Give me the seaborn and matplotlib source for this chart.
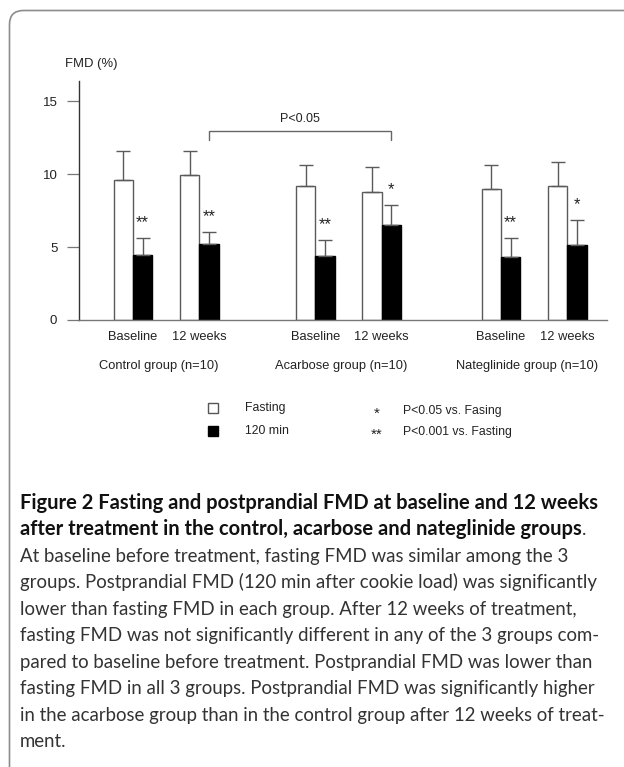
import numpy as np
import pandas as pd
import matplotlib
matplotlib.use("Agg")
import matplotlib.pyplot as plt
import seaborn as sns
from matplotlib.patches import FancyBboxPatch, Rectangle

sns.set_theme(style="white")
plt.rcParams["font.family"] = ["Liberation Sans", "DejaVu Sans"]

# ---- data -------------------------------------------------------------
groups = ["Control group (n=10)", "Acarbose group (n=10)", "Nateglinide group (n=10)"]
periods = ["Baseline", "12 weeks", "Baseline", "12 weeks", "Baseline", "12 weeks"]
conditions = ["Fasting", "120 min"]

fasting_mean = [9.6, 9.9, 9.2, 8.75, 8.95, 9.2]
fasting_sd = [2.0, 1.7, 1.4, 1.75, 1.65, 1.65]
post_mean = [4.45, 5.2, 4.35, 6.5, 4.3, 5.15]
post_sd = [1.15, 0.8, 1.15, 1.35, 1.3, 1.7]
post_marks = ["**", "**", "**", "*", "**", "*"]

legend_notes = ["P<0.05 vs. Fasing", "P<0.001 vs. Fasting"]

caption_bold = [
    "Figure 2 Fasting and postprandial FMD at baseline and 12 weeks",
    "after treatment in the control, acarbose and nateglinide groups",
]
caption_body = [
    "At baseline before treatment, fasting FMD was similar among the 3",
    "groups. Postprandial FMD (120 min after cookie load) was significantly",
    "lower than fasting FMD in each group. After 12 weeks of treatment,",
    "fasting FMD was not significantly different in any of the 3 groups com-",
    "pared to baseline before treatment. Postprandial FMD was lower than",
    "fasting FMD in all 3 groups. Postprandial FMD was significantly higher",
    "in the acarbose group than in the control group after 12 weeks of treat-",
    "ment.",
]

# slot positions along the x axis (pairs within a group sit closer together)
slot_x = [0.0, 1.0, 2.75, 3.75, 5.55, 6.55]

TEXT = "#222222"
W, H = 624, 767
fig = plt.figure(figsize=(W / 100, H / 100), dpi=100)
fig.patch.set_facecolor("white")

# full-figure pixel canvas for frame, legend and caption
bg = fig.add_axes([0, 0, 1, 1])
bg.set_xlim(0, W)
bg.set_ylim(H, 0)
bg.axis("off")

frame = FancyBboxPatch((9.5, 10.5), 700, 790,
                       boxstyle="round,pad=0,rounding_size=14",
                       fc="none", ec="#8c8c8c", lw=1.2)
bg.add_patch(frame)

# ---- bar chart -----------------------------------------------------------
ax = fig.add_axes([79 / W, 1 - 320 / H, (607 - 79) / W, (320 - 81) / H])
ax.patch.set_alpha(0)

df = pd.DataFrame({
    "slot": slot_x * 2,
    "condition": [conditions[0]] * 6 + [conditions[1]] * 6,
    "fmd": fasting_mean + post_mean,
})
sns.barplot(data=df, x="slot", y="fmd", hue="condition", hue_order=conditions,
            palette={"Fasting": "white", "120 min": "black"},
            native_scale=True, width=0.58, gap=0, errorbar=None,
            edgecolor="#5a5a5a", linewidth=1.0, legend=False, ax=ax)

bar_sets = [c for c in ax.containers][:2]
for p in bar_sets[1]:
    p.set_edgecolor("black")

centers = []
for bars, means, sds in zip(bar_sets, [fasting_mean, post_mean], [fasting_sd, post_sd]):
    xc = [p.get_x() + p.get_width() / 2 for p in bars]
    centers.append(xc)
    ax.errorbar(xc, means, yerr=[np.zeros(len(sds)), sds], fmt="none",
                ecolor="#5a5a5a", elinewidth=1.0, capsize=4.8, capthick=1.0,
                zorder=1)

for x, m, s, mark in zip(centers[1], post_mean, post_sd, post_marks):
    ax.annotate(mark, xy=(x, m + s), xytext=(0, 11), textcoords="offset points",
                ha="center", va="center", fontsize=12, color=TEXT)

# comparison bracket between control and acarbose 12-week postprandial bars
bx1, bx2 = centers[1][1], centers[1][3]
ax.plot([bx1, bx1, bx2, bx2], [12.35, 12.97, 12.97, 12.35], color="#666666",
        lw=1.0, solid_joinstyle="miter")
ax.text((bx1 + bx2) / 2, 13.77, "P<0.05", ha="center", va="center",
        fontsize=9, color=TEXT)

ax.set_xlim(-0.8145, 7.149)
ax.set_ylim(0, 16.37)
ax.set_yticks([0, 5, 10, 15])
ax.set_xticks(slot_x)
ax.set_xticklabels(periods)
ax.set_xlabel("")
ax.set_ylabel("")
ax.tick_params(axis="y", left=True, direction="out", length=8.6, width=0.9,
               color="#777777", pad=7, labelsize=9.5, labelcolor=TEXT)
ax.tick_params(axis="x", bottom=False, length=0, pad=8, labelsize=9.3,
               labelcolor=TEXT)
for side in ["top", "right"]:
    ax.spines[side].set_visible(False)
ax.spines["left"].set_color("#333333")
ax.spines["left"].set_linewidth(1.0)
ax.spines["bottom"].set_color("#777777")
ax.spines["bottom"].set_linewidth(1.0)

for i, g in enumerate(groups):
    gx = (slot_x[2 * i] + slot_x[2 * i + 1]) / 2
    ax.annotate(g, xy=(gx, 0), xycoords=("data", "axes fraction"),
                xytext=(-5, -33), textcoords="offset points",
                ha="center", va="center", fontsize=9.3, color=TEXT)

bg.text(65, 64, "FMD (%)", ha="left", va="center", fontsize=9.4, color=TEXT)

# ---- legend --------------------------------------------------------------
bg.add_patch(Rectangle((208, 403), 10, 10, fc="white", ec="#555555", lw=1.0))
bg.add_patch(Rectangle((208, 426), 10, 10, fc="black", ec="black", lw=1.0))
bg.text(245, 408, conditions[0], ha="left", va="center", fontsize=8.8, color=TEXT)
bg.text(245, 431, conditions[1], ha="left", va="center", fontsize=8.8, color=TEXT)
bg.text(377, 414, "*", ha="center", va="center", fontsize=11, color=TEXT)
bg.text(377, 435, "**", ha="center", va="center", fontsize=11, color=TEXT)
bg.text(403, 411, legend_notes[0], ha="left", va="center", fontsize=8.8, color=TEXT)
bg.text(403, 432, legend_notes[1], ha="left", va="center", fontsize=8.8, color=TEXT)

# ---- caption ---------------------------------------------------------------
cap_font = ["Lato", "DejaVu Sans"]
renderer = fig.canvas.get_renderer()


def fitted_size(line, weight, target):
    probe = bg.text(0, 0, line, fontsize=10, family=cap_font, fontweight=weight)
    w10 = probe.get_window_extent(renderer).width
    probe.remove()
    return 10 * target / w10


body_size = fitted_size(caption_body[1], "normal", 578)
bold_size = fitted_size(caption_bold[0], "bold", 578)

x0 = 20
baselines = [509 + 26.45 * i for i in range(len(caption_bold) + len(caption_body))]
for i, line in enumerate(caption_bold):
    t = bg.text(x0, baselines[i], line, ha="left", va="baseline", fontsize=bold_size,
                family=cap_font, fontweight="bold", color="#111111")
    if i == len(caption_bold) - 1:
        ext = t.get_window_extent(renderer)
        bg.text(x0 + ext.width, baselines[i], ".", ha="left", va="baseline",
                fontsize=body_size, family=cap_font, color="#333333")
for j, line in enumerate(caption_body):
    bg.text(x0, baselines[len(caption_bold) + j], line, ha="left", va="baseline",
            fontsize=body_size, family=cap_font, color="#333333")

fig.savefig("out.png", dpi=100, facecolor="white")
